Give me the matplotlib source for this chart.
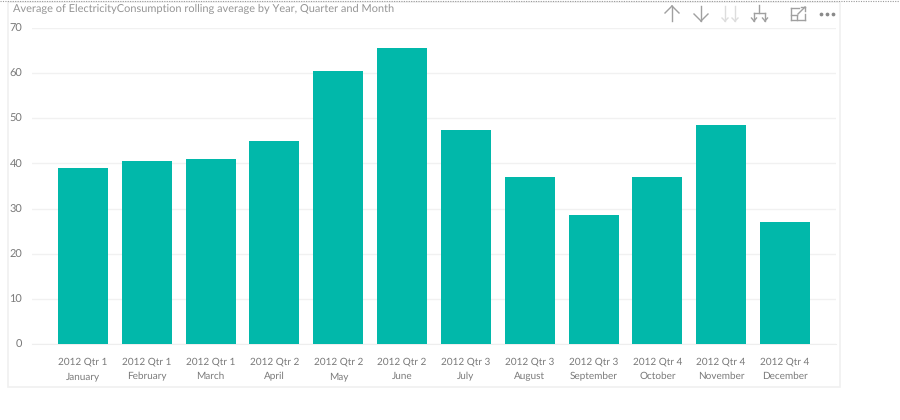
import matplotlib
matplotlib.use("Agg")
import matplotlib.pyplot as plt
from matplotlib.lines import Line2D
from matplotlib.patches import Rectangle

title = "Average of ElectricityConsumption rolling average by Year, Quarter and Month"
quarters = ["2012 Qtr 1"] * 3 + ["2012 Qtr 2"] * 3 + ["2012 Qtr 3"] * 3 + ["2012 Qtr 4"] * 3
months = ["January", "February", "March", "April", "May", "June", "July",
          "August", "September", "October", "November", "December"]
values = [39, 40.5, 41, 45, 60.5, 65.5, 47.5, 37, 28.5, 37, 48.5, 27]
yticks = [0, 10, 20, 30, 40, 50, 60, 70]

W, H = 900, 420
plt.rcParams["font.family"] = ["Lato", "DejaVu Sans"]
plt.rcParams["text.hinting"] = "no_hinting"
plt.rcParams["text.hinting_factor"] = 1
fig = plt.figure(figsize=(W / 100, H / 100), dpi=100)

def fx(p): return p / W
def fy(p): return 1 - p / H

def seg(x0, y0, x1, y1, color="#a8a8a8", lw=1.0, **kw):
    fig.add_artist(Line2D([fx(x0), fx(x1)], [fy(y0), fy(y1)], color=color, lw=lw,
                          transform=fig.transFigure, **kw))

# panel frame
fig.add_artist(Rectangle((fx(8), fy(387)), fx(832), 387 / H - 2 / H, fill=False,
                         ec="#f0f0f0", lw=1.2, transform=fig.transFigure))
# dotted top line
seg(0, 1, 900, 1, color="#9a9a9a", lw=0.8, ls=(0, (1, 1.2)))

ax = fig.add_axes([fx(32), fy(344), fx(804), 316 / H])
x = list(range(len(values)))
ax.bar(x, values, width=50 / 63.8, color="#01B8AA", zorder=3)
ax.set_xlim(-0.8, 11.8)
ax.set_ylim(0, 70)
ax.set_yticks(yticks)
ax.set_xticks(x)
ax.set_xticklabels([f"{q}\n{m}" for q, m in zip(quarters, months)], linespacing=1.7)
ax.tick_params(axis="both", length=0, labelcolor="#7a7a7a")
ax.tick_params(axis="y", pad=7, labelsize=8.2)
ax.tick_params(axis="x", pad=9.5, labelsize=7.3)
ax.grid(axis="y", color="#f1f1f1", lw=1, zorder=0)
ax.set_axisbelow(True)
for s in ax.spines.values():
    s.set_visible(False)
ax.spines["bottom"].set_visible(True)
ax.spines["bottom"].set_color("#eeeeee")

fig.text(fx(13), fy(9), title, fontsize=7.75, color="#959595", va="center", ha="left")

# toolbar icons
dark = "#a0a0a0"
seg(672, 6, 672, 21, dark); seg(665, 13, 672, 6, dark); seg(679, 13, 672, 6, dark)
seg(701, 6, 701, 21, dark); seg(694, 14, 701, 21, dark); seg(708, 14, 701, 21, dark)
light = "#dddddd"
for c in (725, 735):
    seg(c, 6, c, 21, light); seg(c - 3, 18, c, 21, light); seg(c + 3, 18, c, 21, light)
seg(759, 5, 759, 13, dark); seg(754, 13, 765, 13, dark)
for c in (754, 765):
    seg(c, 13, c, 21, dark); seg(c - 2.5, 18, c, 21, dark); seg(c + 2.5, 18, c, 21, dark)
seg(791, 8, 791, 20, dark); seg(791, 20, 805, 20, dark); seg(805, 20, 805, 14, dark)
seg(791, 8, 799, 8, dark); seg(791, 15, 797, 15, dark); seg(797, 15, 797, 20, dark)
seg(798, 14, 805, 7, dark); seg(801, 7, 805, 7, dark); seg(805, 7, 805, 11, dark)
for c in (821, 827, 833):
    fig.add_artist(Line2D([fx(c)], [fy(13.5)], marker="o", ms=1.7, color="#8a8a8a", ls="none",
                          transform=fig.transFigure))

fig.savefig("out.png", dpi=100, facecolor="white")
